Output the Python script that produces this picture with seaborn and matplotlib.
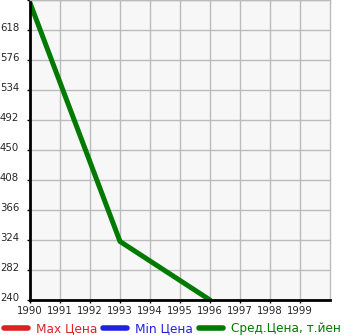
import matplotlib
matplotlib.use("Agg")
import matplotlib.pyplot as plt
import matplotlib.transforms as mtransforms
import seaborn as sns
import pandas as pd

years = [1990, 1993, 1996]
avg_price = [656, 322, 240]
max_price = []
min_price = []
x_ticks = list(range(1990, 2000))
y_ticks = [240, 282, 324, 366, 408, 450, 492, 534, 576, 618]
legend_labels = ["Max Цена", "Min Цена", "Сред.Цена, т.йен"]
colors = ["#dd2222", "#2222dd", "#007a00"]

sns.set_style("whitegrid")
plt.rcParams['font.family'] = ['DejaVu Sans']

fig = plt.figure(figsize=(3.45, 3.35), dpi=100)
ax = fig.add_axes([30/345, 35/335, 300/345, 300/335])
ax.set_facecolor("#f7f7f7")

df = pd.DataFrame({"year": years, "price": avg_price})
ax.plot(max_price, max_price, color=colors[0], lw=3.6, solid_capstyle="round", label=legend_labels[0])
ax.plot(min_price, min_price, color=colors[1], lw=3.6, solid_capstyle="round", label=legend_labels[1])
sns.lineplot(data=df, x="year", y="price", ax=ax, color=colors[2], lw=3.6, label=legend_labels[2])

ax.set_xlim(1990, 2000)
ax.set_ylim(240, 660)
ax.set_xticks(x_ticks)
ax.set_xticklabels([str(v) for v in x_ticks], fontsize=7.3)
ax.set_yticks(y_ticks + [660])
ax.set_yticklabels([str(v) for v in y_ticks] + [""], fontsize=7.3)
ax.set_xlabel("")
ax.set_ylabel("")
ax.grid(True, color="#bbbbbb", lw=1)
for s in ["top", "right"]:
    ax.spines[s].set_visible(True)
    ax.spines[s].set_color("#bbbbbb")
    ax.spines[s].set_linewidth(1)
for s in ["left", "bottom"]:
    ax.spines[s].set_color("black")
    ax.spines[s].set_linewidth(2)
ax.tick_params(axis="both", direction="out", length=2.5, width=1, color="black", left=True, bottom=True)
ax.tick_params(axis="y", pad=21.6 - 2.5)
ax.tick_params(axis="x", pad=2)
off = mtransforms.ScaledTranslation(0, 3/100, fig.dpi_scale_trans)
for lab in ax.get_yticklabels():
    lab.set_horizontalalignment("left")
    lab.set_transform(lab.get_transform() + off)

leg = ax.legend(loc="lower center", bbox_to_anchor=(-30/300 + 345/600, -36/300), ncol=3,
                frameon=False, fontsize=8.7, handlelength=2.0, handletextpad=0.65,
                columnspacing=0.5, borderaxespad=0, borderpad=0.1)
for line in leg.get_lines():
    line.set_linewidth(4)
    line.set_solid_capstyle("round")
for t, c in zip(leg.get_texts(), colors):
    t.set_color(c)

fig.savefig("out.png", dpi=100)
